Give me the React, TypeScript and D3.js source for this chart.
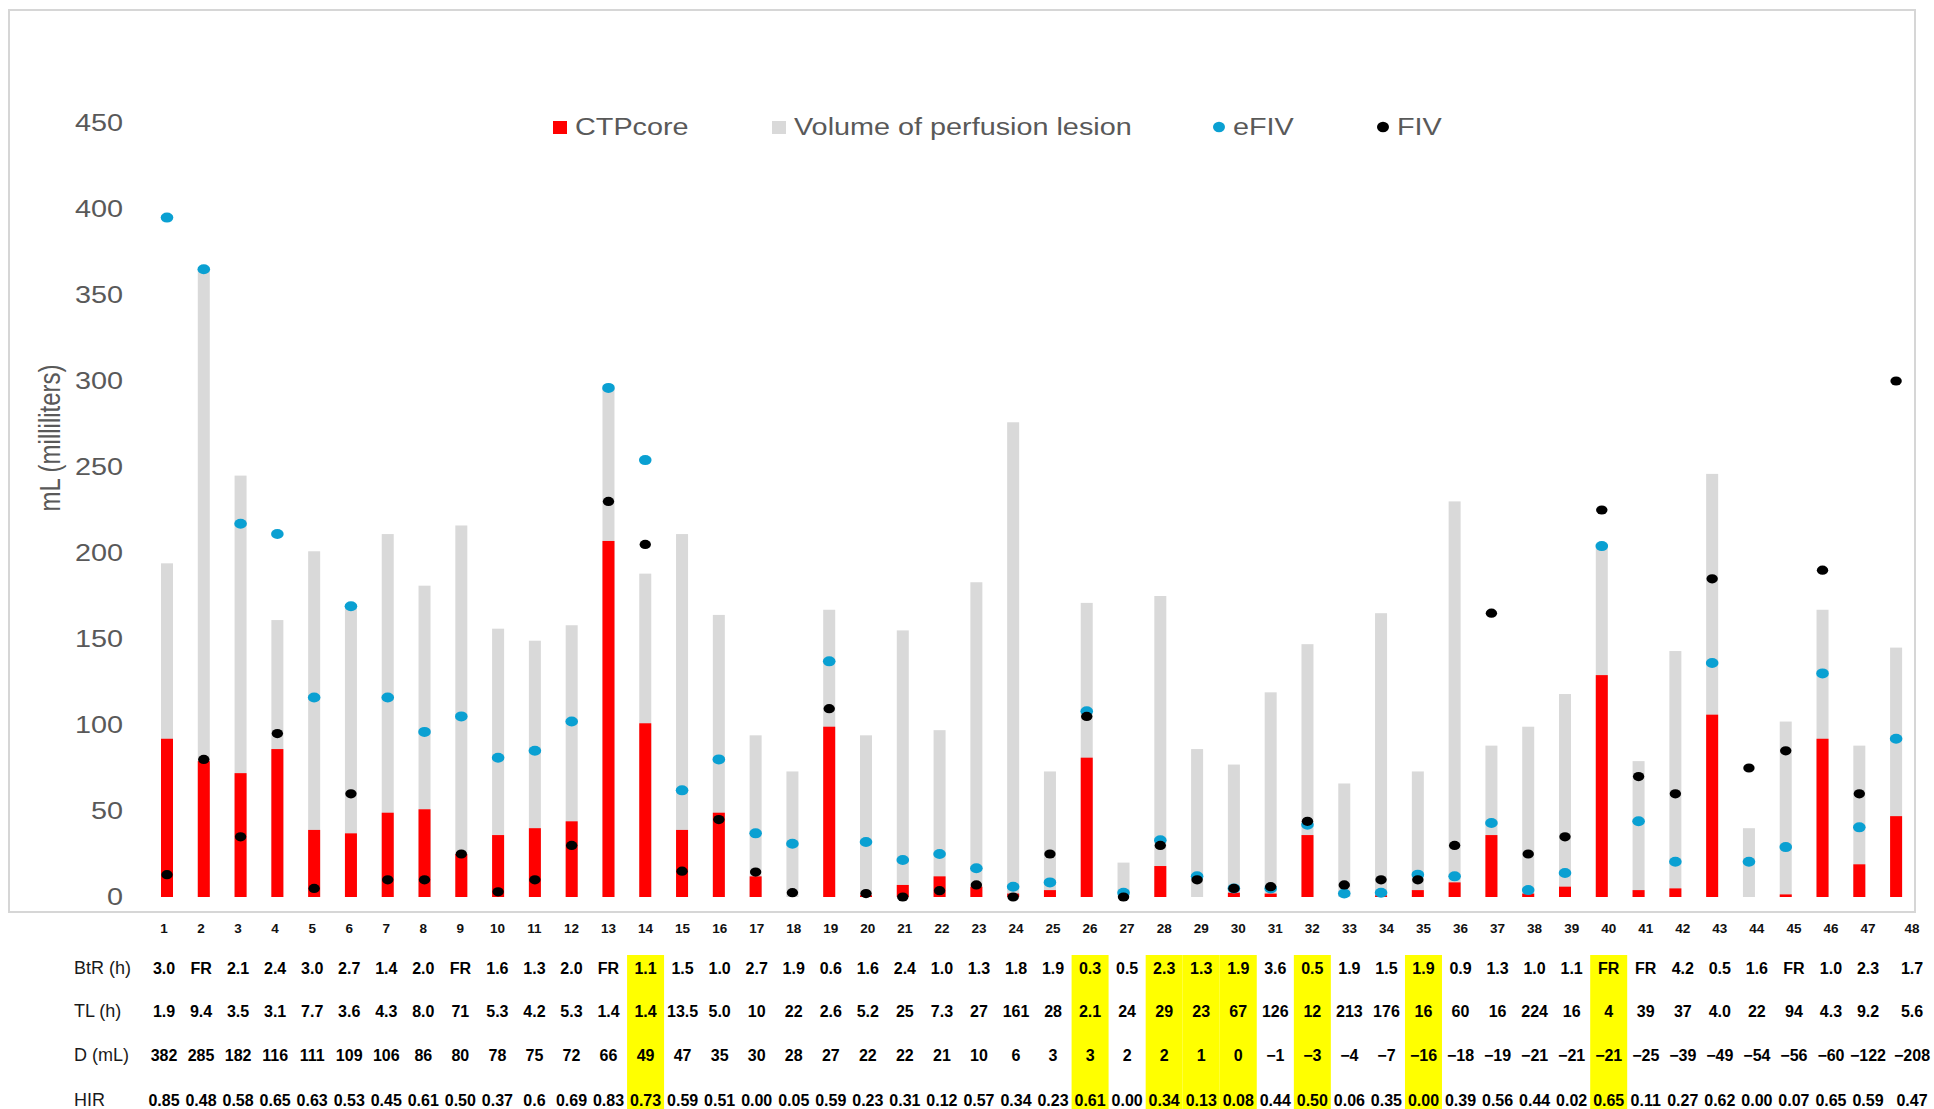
import React, { useEffect } from "react";
import { scaleBand, scaleLinear, range } from "d3";

// patients in order of D (mL), 1..48
const patientIds = range(1, 49).map(String);

// bars / dots (mL)
const perfusionVolume = [194, 365, 245, 161, 201, 170, 211, 181, 216, 156, 149, 158, 296, 188, 211, 164, 94, 73, 167, 94, 155, 97, 183, 276, 73, 171, 20, 175, 86, 77, 119, 147, 66, 165, 73, 230, 88, 99, 118, 205, 79, 143, 246, 40, 102, 167, 88, 145];
const ctpCore = [92, 79, 72, 86, 39, 37, 49, 51, 25, 36, 40, 44, 207, 101, 39, 49, 12, 0, 99, 1, 7, 12, 6, 2, 4, 81, 0, 18, 0, 2.5, 2, 36, 0, 1, 4, 8.5, 36, 2, 6, 129, 4, 5, 106, 0, 1.5, 92, 19, 47];
const eFIV = [395, 365, 217, 211, 116, 169, 116, 96, 105, 81, 85, 102, 296, 254, 62, 80, 37, 31, 137, 32, 21.5, 25, 16.7, 6, 8.5, 108, 2.5, 33, 12, 5, 5, 42, 2, 2.5, 13, 12, 43, 4, 14, 204, 44, 20.5, 136, 20.5, 29, 130, 40.5, 92];
const FIV = [13, 80, 35, 95, 5, 60, 10, 10, 25, 3, 10, 30, 230, 205, 15, 45, 14.5, 2.5, 109.5, 2, 0, 3.7, 7, 0, 25, 105, 0, 30, 10, 5, 6, 44, 7, 10, 10, 30, 165, 25, 35, 225, 70, 60, 185, 75, 85, 190, 60, 300];

// table under the chart
const btr = ["3.0", "FR", "2.1", "2.4", "3.0", "2.7", "1.4", "2.0", "FR", "1.6", "1.3", "2.0", "FR", "1.1", "1.5", "1.0", "2.7", "1.9", "0.6", "1.6", "2.4", "1.0", "1.3", "1.8", "1.9", "0.3", "0.5", "2.3", "1.3", "1.9", "3.6", "0.5", "1.9", "1.5", "1.9", "0.9", "1.3", "1.0", "1.1", "FR", "FR", "4.2", "0.5", "1.6", "FR", "1.0", "2.3", "1.7"];
const tl = ["1.9", "9.4", "3.5", "3.1", "7.7", "3.6", "4.3", "8.0", "71", "5.3", "4.2", "5.3", "1.4", "1.4", "13.5", "5.0", "10", "22", "2.6", "5.2", "25", "7.3", "27", "161", "28", "2.1", "24", "29", "23", "67", "126", "12", "213", "176", "16", "60", "16", "224", "16", "4", "39", "37", "4.0", "22", "94", "4.3", "9.2", "5.6"];
const dml = ["382", "285", "182", "116", "111", "109", "106", "86", "80", "78", "75", "72", "66", "49", "47", "35", "30", "28", "27", "22", "22", "21", "10", "6", "3", "3", "2", "2", "1", "0", "−1", "−3", "−4", "−7", "−16", "−18", "−19", "−21", "−21", "−21", "−25", "−39", "−49", "−54", "−56", "−60", "−122", "−208"];
const hir = ["0.85", "0.48", "0.58", "0.65", "0.63", "0.53", "0.45", "0.61", "0.50", "0.37", "0.6", "0.69", "0.83", "0.73", "0.59", "0.51", "0.00", "0.05", "0.59", "0.23", "0.31", "0.12", "0.57", "0.34", "0.23", "0.61", "0.00", "0.34", "0.13", "0.08", "0.44", "0.50", "0.06", "0.35", "0.00", "0.39", "0.56", "0.44", "0.02", "0.65", "0.11", "0.27", "0.62", "0.00", "0.07", "0.65", "0.59", "0.47"];
const highlighted = [14, 26, 28, 29, 30, 32, 35, 40];

const yTicks = range(0, 451, 50);
const legendItems = [
  { label: "CTPcore", color: "#ff0000", shape: "square", x: 553 },
  { label: "Volume of perfusion lesion", color: "#d9d9d9", shape: "square", x: 772 },
  { label: "eFIV", color: "#0aa0d2", shape: "dot", x: 1213 },
  { label: "FIV", color: "#000000", shape: "dot", x: 1377 },
];

const FONT = "'Liberation Sans', Arial, sans-serif";
const GRAY = "#d9d9d9";
const RED = "#ff0000";
const BLUE = "#0aa0d2";

export default function App() {
  useEffect(() => {
    document.body.style.margin = "0";
  }, []);

  const width = 1934;
  const height = 1109;

  const x = scaleBand<string>().domain(patientIds).range([148.6, 1914.5]);
  const cx = (i: number) => (x(patientIds[i]) as number) + x.bandwidth() / 2;
  const y = scaleLinear().domain([0, 450]).range([897, 123]);
  const barW = 12;

  // table columns drift a little from the bars
  const colScale = scaleLinear().domain([1, 47]).range([164, 1868]);
  const colX = (n: number) => colScale(n) + (n === 48 ? 7 : 0);

  const rows = [
    { label: "BtR (h)", values: btr, y: 968 },
    { label: "TL (h)", values: tl, y: 1011 },
    { label: "D (mL)", values: dml, y: 1055 },
    { label: "HIR", values: hir, y: 1100 },
  ];

  return (
    <svg width={width} height={height} style={{ display: "block", background: "#fff" }} fontFamily={FONT}>
      {/* plot frame */}
      <rect x={9} y={10} width={1906} height={902} fill="none" stroke="#d6d6d6" strokeWidth={2} />

      {/* y axis labels */}
      {yTicks.map((t) => (
        <text key={t} transform={`translate(123,${y(t)}) scale(1.2,1)`} textAnchor="end" dominantBaseline="central" fontSize={24} fill="#595959">
          {t}
        </text>
      ))}
      <text transform={`translate(50,438) scale(1.2,1) rotate(-90)`} textAnchor="middle" dominantBaseline="central" fontSize={24} fill="#595959">
        mL (milliliters)
      </text>

      {/* legend */}
      {legendItems.map((d) => (
        <g key={d.label}>
          {d.shape === "square" ? (
            <rect x={d.x} y={121} width={14} height={13} fill={d.color} />
          ) : (
            <ellipse cx={d.x + 6} cy={127} rx={6} ry={5.3} fill={d.color} />
          )}
          <text transform={`translate(${d.x + (d.shape === "square" ? 22 : 20)},127) scale(1.2,1)`} dominantBaseline="central" fontSize={24} fill="#595959">
            {d.label}
          </text>
        </g>
      ))}

      {/* bars */}
      {perfusionVolume.map((v, i) => (
        <rect key={"g" + i} x={cx(i) - barW / 2} y={y(v)} width={barW} height={y(0) - y(v)} fill={GRAY} />
      ))}
      {ctpCore.map((v, i) => (
        <rect key={"r" + i} x={cx(i) - barW / 2} y={y(v)} width={barW} height={y(0) - y(v)} fill={RED} />
      ))}

      {/* dots */}
      {eFIV.map((v, i) => (
        <ellipse key={"e" + i} cx={cx(i)} cy={y(v)} rx={6.3} ry={5} fill={BLUE} />
      ))}
      {FIV.map((v, i) => (
        <ellipse key={"f" + i} cx={cx(i)} cy={y(v)} rx={5.7} ry={4.6} fill="#000" />
      ))}

      {/* highlighted columns */}
      {highlighted.map((n) => (
        <rect key={"h" + n} x={colX(n) - 18.5} y={955} width={37} height={154} fill="#ffff00" />
      ))}

      {/* patient numbers */}
      {patientIds.map((id, i) => (
        <text key={"n" + id} x={colX(i + 1)} y={928} textAnchor="middle" dominantBaseline="central" fontSize={13.5} fontWeight="bold" fill="#111">
          {id}
        </text>
      ))}

      {/* table */}
      {rows.map((r) => (
        <g key={r.label}>
          <text x={74} y={r.y} dominantBaseline="central" fontSize={18} fill="#1a1a1a">
            {r.label}
          </text>
          {r.values.map((v, i) => (
            <text key={i} x={colX(i + 1)} y={r.y} textAnchor="middle" dominantBaseline="central" fontSize={16} fontWeight="bold" fill="#000">
              {v}
            </text>
          ))}
        </g>
      ))}
    </svg>
  );
}
